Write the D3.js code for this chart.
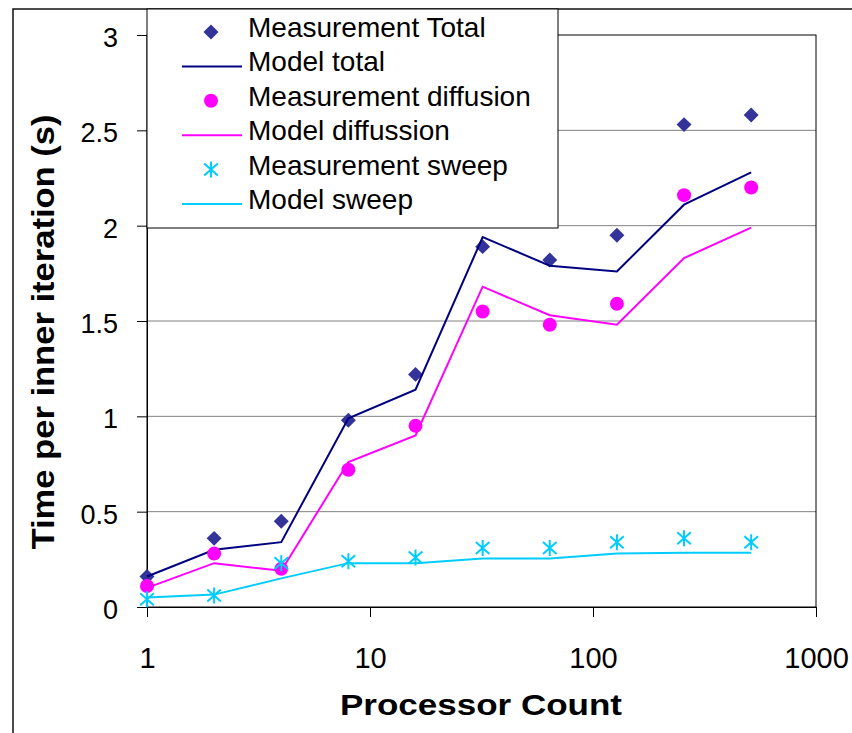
<!DOCTYPE html>
<html>
<head>
<meta charset="utf-8">
<script src="https://cdn.jsdelivr.net/npm/d3@7"></script>
<style>
  body { margin: 0; background: #fff; }
  svg { display: block; font-family: Arial, "Liberation Sans", sans-serif; }
</style>
</head>
<body>
<div id="chart"></div>
<script>
// processor counts on the log x axis
const procCounts = [1, 2, 4, 8, 16, 32, 64, 128, 256, 512];
// measured and modelled times per inner iteration (s)
const measTotal = [0.16, 0.36, 0.45, 0.98, 1.22, 1.89, 1.82, 1.95, 2.53, 2.58];
const modelTotal = [0.16, 0.30, 0.34, 0.99, 1.14, 1.94, 1.79, 1.76, 2.11, 2.28];
const measDiffusion = [0.11, 0.28, 0.20, 0.72, 0.95, 1.55, 1.48, 1.59, 2.16, 2.20];
const modelDiffusion = [0.10, 0.23, 0.19, 0.76, 0.90, 1.68, 1.53, 1.48, 1.83, 1.99];
const measSweep = [0.04, 0.06, 0.23, 0.24, 0.26, 0.31, 0.31, 0.34, 0.36, 0.34];
const modelSweep = [0.05, 0.065, 0.15, 0.23, 0.23, 0.255, 0.255, 0.28, 0.285, 0.285];

const xTicks = [1, 10, 100, 1000];
const yTicks = [0, 0.5, 1, 1.5, 2, 2.5, 3];
const legendLabels = ["Measurement Total", "Model total", "Measurement diffusion",
  "Model diffussion", "Measurement sweep", "Model sweep"];
const legendKinds = ["diamond", "line", "circle", "line", "star", "line"];
const legendColors = ["#333399", "#000080", "#ff00ff", "#ff00ff", "#00ccff", "#00ccff"];

const W = 852, H = 733;
const plot = {left: 147, right: 816, top: 35, bottom: 607};

let svg = d3.select("#chart").append("svg")
  .attr("width", W).attr("height", H);

//outer frame, only the top and left edges are in view
svg.append("rect").attr("x", 13).attr("y", 9).attr("width", 1000).attr("height", 1000)
  .attr("fill", "none").attr("stroke", "#111").attr("stroke-width", 1.5);

let xScale = d3.scaleLog().domain([1, 1000]).range([plot.left, plot.right]);
let yScale = d3.scaleLinear().domain([0, 3]).range([plot.bottom, plot.top]);

//horizontal grid lines
svg.append("g").selectAll("line").data(yTicks.filter(t => t > 0 && t < 3)).enter().append("line")
  .attr("x1", plot.left).attr("x2", plot.right)
  .attr("y1", d => yScale(d)).attr("y2", d => yScale(d))
  .attr("stroke", "#808080").attr("stroke-width", 1);

//plot border
svg.append("rect").attr("x", plot.left).attr("y", plot.top)
  .attr("width", plot.right - plot.left).attr("height", plot.bottom - plot.top)
  .attr("fill", "none").attr("stroke", "#000").attr("stroke-width", 1);

//y axis
let yAxis = d3.axisLeft(yScale).tickValues(yTicks).tickSize(10).tickPadding(19)
  .tickFormat(d => d);
let yG = svg.append("g").attr("transform", "translate(" + plot.left + ",0)").call(yAxis);
yG.select(".domain").attr("stroke", "#000");
yG.selectAll(".tick line").attr("stroke", "#000");
yG.selectAll(".tick text").attr("font-size", 27).attr("font-family", "Arial, 'Liberation Sans', sans-serif")
  .attr("fill", "#000").attr("dy", "0.42em");

//x axis
let xAxis = d3.axisBottom(xScale).tickValues(xTicks).tickSize(10).tickPadding(0)
  .tickFormat(d3.format("d"));
let xG = svg.append("g").attr("transform", "translate(0," + plot.bottom + ")").call(xAxis);
xG.select(".domain").attr("stroke", "#000");
xG.selectAll(".tick line").attr("stroke", "#000");
xG.selectAll(".tick text").attr("font-size", 29).attr("font-family", "Arial, 'Liberation Sans', sans-serif")
  .attr("fill", "#000").attr("dy", null).attr("y", 61);

//axis titles
svg.append("text").attr("x", 481).attr("y", 715).attr("text-anchor", "middle")
  .attr("font-size", 30).attr("font-weight", "bold")
  .attr("textLength", 282).attr("lengthAdjust", "spacingAndGlyphs")
  .text("Processor Count");
svg.append("text").attr("transform", "translate(54,332) rotate(-90)").attr("text-anchor", "middle")
  .attr("font-size", 31).attr("font-weight", "bold")
  .attr("textLength", 435).attr("lengthAdjust", "spacingAndGlyphs")
  .text("Time per inner iteration (s)");

//marker shapes
function starPath(s) {
  let p = d3.path();
  p.moveTo(0, -s); p.lineTo(0, s);
  p.moveTo(-s * 0.85, -s * 0.75); p.lineTo(s * 0.85, s * 0.75);
  p.moveTo(-s * 0.85, s * 0.75); p.lineTo(s * 0.85, -s * 0.75);
  return p.toString();
}
const diamondPath = d3.symbol().type(d3.symbolSquare).size(112)();

function drawMarkers(g, kind, color, xs, ys) {
  let sel = g.selectAll("path.m").data(xs.map((x, i) => [x, ys[i]])).enter();
  if (kind === "circle") {
    sel.append("circle").attr("cx", d => xScale(d[0])).attr("cy", d => yScale(d[1]))
      .attr("r", 7).attr("fill", color);
  } else if (kind === "diamond") {
    sel.append("path").attr("d", diamondPath)
      .attr("transform", d => "translate(" + xScale(d[0]) + "," + yScale(d[1]) + ") rotate(45)")
      .attr("fill", color);
  } else {
    sel.append("path").attr("d", starPath(8))
      .attr("transform", d => "translate(" + xScale(d[0]) + "," + yScale(d[1]) + ")")
      .attr("stroke", color).attr("stroke-width", 2).attr("fill", "none");
  }
}

let line = d3.line().x(d => xScale(d[0])).y(d => yScale(d[1]));
function drawLine(g, color, xs, ys) {
  g.append("path").datum(xs.map((x, i) => [x, ys[i]])).attr("d", line)
    .attr("fill", "none").attr("stroke", color).attr("stroke-width", 2);
}

let series = svg.append("g");
drawMarkers(series.append("g"), "diamond", legendColors[0], procCounts, measTotal);
drawLine(series, legendColors[1], procCounts, modelTotal);
drawMarkers(series.append("g"), "circle", legendColors[2], procCounts, measDiffusion);
drawLine(series, legendColors[3], procCounts, modelDiffusion);
drawMarkers(series.append("g"), "star", legendColors[4], procCounts, measSweep);
drawLine(series, legendColors[5], procCounts, modelSweep);

//legend box
let legend = svg.append("g");
legend.append("rect").attr("x", 147).attr("y", 9).attr("width", 411).attr("height", 219)
  .attr("fill", "#fff").attr("stroke", "#000").attr("stroke-width", 1);
legendLabels.forEach((label, i) => {
  let cy = 32 + i * 34.4;
  let row = legend.append("g");
  if (legendKinds[i] === "line") {
    row.append("line").attr("x1", 182).attr("x2", 242).attr("y1", cy).attr("y2", cy)
      .attr("stroke", legendColors[i]).attr("stroke-width", 2);
  } else if (legendKinds[i] === "circle") {
    row.append("circle").attr("cx", 211).attr("cy", cy).attr("r", 7).attr("fill", legendColors[i]);
  } else if (legendKinds[i] === "diamond") {
    row.append("path").attr("d", diamondPath)
      .attr("transform", "translate(211," + cy + ") rotate(45)").attr("fill", legendColors[i]);
  } else {
    row.append("path").attr("d", starPath(8)).attr("transform", "translate(211," + cy + ")")
      .attr("stroke", legendColors[i]).attr("stroke-width", 2).attr("fill", "none");
  }
  row.append("text").attr("x", 248).attr("y", cy + 5).attr("font-size", 28).attr("fill", "#000")
    .text(label);
});
</script>
</body>
</html>
